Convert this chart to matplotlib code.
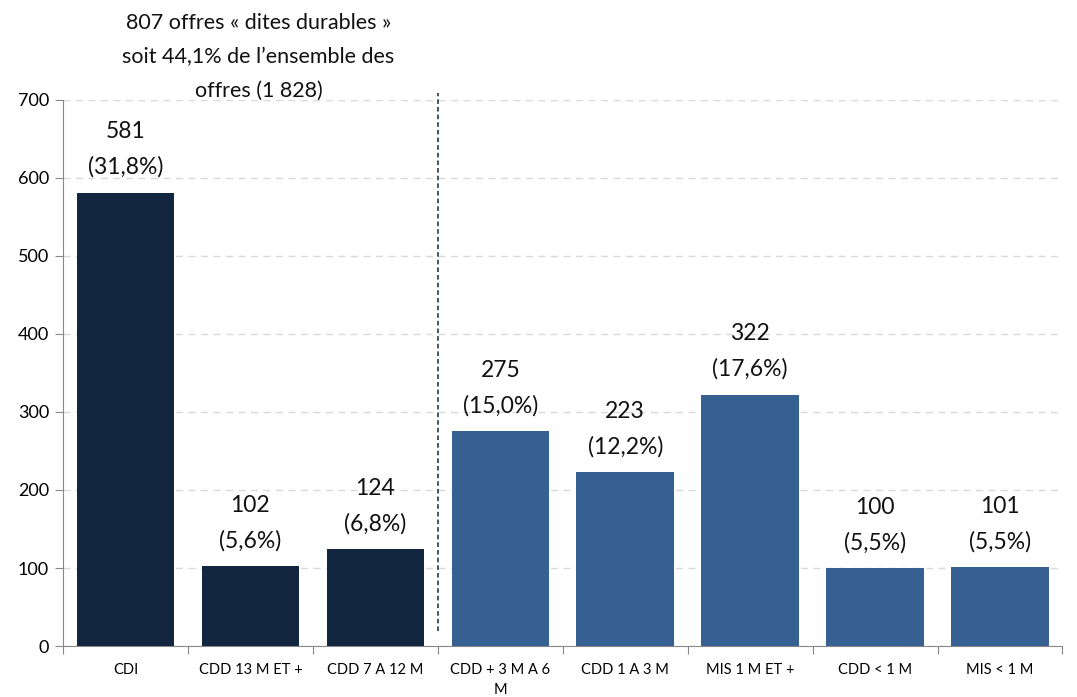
import matplotlib.pyplot as plt
import numpy as np

plt.rcParams["font.family"] = ["Lato", "DejaVu Sans"]

categories = ["CDI", "CDD 13 M ET +", "CDD 7 A 12 M", "CDD + 3 M A 6\nM",
              "CDD 1 A 3 M", "MIS 1 M ET +", "CDD < 1 M", "MIS < 1 M"]
counts = [581, 102, 124, 275, 223, 322, 100, 101]
shares = ["31,8%", "5,6%", "6,8%", "15,0%", "12,2%", "17,6%", "5,5%", "5,5%"]
durable = [True, True, True, False, False, False, False, False]

DARK = "#12263f"
BLUE = "#366092"

fig = plt.figure(figsize=(10.77, 6.97), dpi=100)
ax = fig.add_axes([0.0585, 0.073, 0.928, 0.784])

x = np.arange(len(categories))
colors = [DARK if d else BLUE for d in durable]
ax.bar(x, counts, width=0.78, color=colors, zorder=3)

for xi, c, s in zip(x, counts, shares):
    ax.text(xi, c + 19, f"{c}\n({s})", ha="center", va="bottom",
            fontsize=16.5, linespacing=1.8, color="#111111")

ax.set_xlim(-0.5, len(categories) - 0.5)
ax.set_ylim(0, 700)
ax.set_yticks(range(0, 701, 100))
ax.yaxis.grid(True, linestyle=(0, (5, 4)), color="#d9d9d9", linewidth=1, zorder=0)

# x ticks at category boundaries, labels at centres
ax.set_xticks(np.arange(-0.5, len(categories)), minor=False)
ax.set_xticklabels([])
ax.set_xticks(x, minor=True)
ax.set_xticklabels(categories, minor=True, fontsize=10.5, linespacing=1.55)
ax.tick_params(axis="x", which="major", length=6, color="#888888", direction="out")
ax.tick_params(axis="x", which="minor", length=0, pad=12)
ax.tick_params(axis="y", length=6, color="#888888", labelsize=13, pad=4)

for side in ["top", "right"]:
    ax.spines[side].set_visible(False)
for side in ["left", "bottom"]:
    ax.spines[side].set_color("#888888")

# separator between durable / non-durable offers
ax.plot([2.5, 2.5], [20, 708], linestyle=(0, (3, 2)), color="#12263f",
        linewidth=1.1, clip_on=False, zorder=4)

fig.text(0.24, 0.981, "807 offres « dites durables »\nsoit 44,1% de l\u2019ensemble des\noffres (1 828)",
         ha="center", va="top", fontsize=15.5, linespacing=1.85, color="#111111")

fig.savefig("out.png", dpi=100, facecolor="white")
